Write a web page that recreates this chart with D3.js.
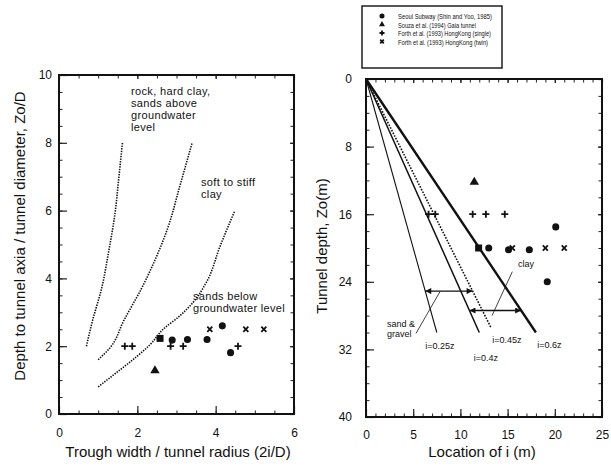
<!DOCTYPE html>
<html>
<head>
<meta charset="utf-8">
<script src="https://cdn.jsdelivr.net/npm/d3@7"></script>
<style>
    body { margin: 0; background: #fff; }
    text { font-family: "Liberation Sans", Arial, sans-serif; fill: #111; }
</style>
</head>
<body>
<svg width="611" height="466"></svg>
<script>
// ---- left panel: trough width ratio vs depth ratio ----
const rockCurve = [[0.7, 2], [0.86, 2.77], [1.09, 3.71], [1.26, 4.74], [1.43, 5.92], [1.53, 7], [1.62, 8]];
const clayCurve = [[1.0, 1.6], [1.3, 1.95], [1.66, 2.77], [2.11, 3.71], [2.45, 4.54], [2.79, 5.53], [3.08, 6.7], [3.4, 8]];
const sandCurve = [[1.0, 0.8], [1.5, 1.25], [1.98, 1.69], [2.32, 2.04], [2.66, 2.5], [3.09, 2.9], [3.43, 3.3], [3.77, 3.9], [4.11, 4.94], [4.49, 6]];

const seoulRatio = [[2.89, 2.18], [3.28, 2.2], [3.78, 2.2], [4.17, 2.6], [4.38, 1.81]];
const gaiaRatio = [[2.45, 1.28]];
const hkSingleRatio = [[1.68, 2.0], [1.87, 2.0], [2.85, 2.0], [3.17, 2.0], [4.57, 2.0]];
const hkTwinRatio = [[3.85, 2.5], [4.77, 2.5], [5.23, 2.5]];
const squareRatio = [[2.58, 2.23]];

// ---- right panel: location of i vs tunnel depth ----
const seoulDepth = [[20.1, 17.5], [13.0, 20], [15.1, 20.2], [17.3, 20.2], [19.2, 24]];
const gaiaDepth = [[11.47, 12.2]];
const hkSingleDepth = [[6.63, 16], [7.34, 16], [11.3, 16], [12.7, 16], [14.7, 16]];
const hkTwinDepth = [[15.5, 20], [19.0, 20], [21.0, 20]];
const squareDepth = [[11.93, 20]];

const iFactors = [0.25, 0.4, 0.45, 0.6];
const iEndDepth = [30, 30, 29.5, 30];
const iLabels = ["i=0.25z", "i=0.4z", "i=0.45z", "i=0.6z"];

const legendLabels = [
    "Seoul Subway (Shin and Yoo, 1985)",
    "Souza et al. (1994)   Gaia tunnel",
    "Forth et al. (1993)   HongKong (single)",
    "Forth et al. (1993)   HongKong (twin)"
];

const leftXTicks = [0, 2, 4, 6];
const leftYTicks = [0, 2, 4, 6, 8, 10];
const rightXTicks = [0, 5, 10, 15, 20, 25];
const rightYTicks = [0, 8, 16, 24, 32, 40];

const svg = d3.select("svg");

const lx = d3.scaleLinear().domain([0, 6]).range([59, 294]);
const ly = d3.scaleLinear().domain([0, 10]).range([414, 75]);
const rx = d3.scaleLinear().domain([0, 25]).range([366, 602]);
const ry = d3.scaleLinear().domain([0, 40]).range([79, 417]);

// markers
function drawMarks(g, pts, x, y, kind, s) {
    const sel = g.append("g").selectAll("path").data(pts).enter().append("path")
        .attr("transform", d => `translate(${x(d[0])},${y(d[1])})`);
    if (kind === "circle") sel.attr("d", d3.symbol(d3.symbolCircle, s * s * 0.8)).attr("fill", "#111");
    if (kind === "square") sel.attr("d", d3.symbol(d3.symbolSquare, s * s)).attr("fill", "#111");
    if (kind === "triangle") sel.attr("d", d3.symbol(d3.symbolTriangle, s * s * 0.6)).attr("fill", "#111");
    if (kind === "plus") {
        const h = s / 2;
        sel.attr("d", `M${-h},0H${h}M0,${-h}V${h}`).attr("stroke", "#111").attr("stroke-width", 1.8).attr("fill", "none");
    }
    if (kind === "x") {
        const h = s * 0.36;
        sel.attr("d", `M${-h},${-h}L${h},${h}M${-h},${h}L${h},${-h}`).attr("stroke", "#111").attr("stroke-width", 1.8).attr("fill", "none");
    }
}

function drawFrame(x, y, xMinor, yMinor, xTicks, yTicks, xPad, yPad) {
    const g = svg.append("g");
    const [x0, x1] = x.range();
    const [y0, y1] = y.range();
    const bottom = Math.max(y0, y1), top = Math.min(y0, y1);

    const axes = [
        { axis: d3.axisBottom, pos: `translate(0,${bottom})`, scale: x, minor: xMinor, major: xTicks, pad: xPad, labels: true },
        { axis: d3.axisTop, pos: `translate(0,${top})`, scale: x, minor: xMinor, major: xTicks, pad: 0, labels: false },
        { axis: d3.axisLeft, pos: `translate(${x0},0)`, scale: y, minor: yMinor, major: yTicks, pad: yPad, labels: true },
        { axis: d3.axisRight, pos: `translate(${x1},0)`, scale: y, minor: yMinor, major: yTicks, pad: 0, labels: false }
    ];
    axes.forEach(a => {
        g.append("g").attr("transform", a.pos)
            .call(a.axis(a.scale).tickValues(a.minor).tickSize(-3.5).tickFormat(""))
            .call(s => s.select(".domain").remove())
            .call(s => s.selectAll("line").attr("stroke", "#222"));
        const maj = g.append("g").attr("transform", a.pos)
            .call(a.axis(a.scale).tickValues(a.major).tickSize(a.labels ? -8 : -4)
                .tickPadding(a.pad).tickFormat(a.labels ? d3.format("d") : ""))
            .call(s => s.select(".domain").remove())
            .call(s => s.selectAll("line").attr("stroke", "#222").attr("stroke-width", 1.2));
        maj.selectAll("text").attr("font-size", 12).style("font-family", "'Liberation Sans', Arial, sans-serif").attr("fill", "#111");
    });

    g.append("rect")
        .attr("x", x0).attr("y", top)
        .attr("width", x1 - x0).attr("height", bottom - top)
        .attr("fill", "none").attr("stroke", "#111").attr("stroke-width", 2);
    return g;
}

// ---------- left panel ----------
drawFrame(lx, ly, d3.range(0, 6.01, 0.5), d3.range(0, 10.01, 0.5), leftXTicks, leftYTicks, 14, 7);

const curveLine = d3.line().x(d => lx(d[0])).y(d => ly(d[1])).curve(d3.curveMonotoneY);
[rockCurve, clayCurve, sandCurve].forEach(c => {
    svg.append("path").attr("d", curveLine(c))
        .attr("fill", "none").attr("stroke", "#111")
        .attr("stroke-width", 1.6).attr("stroke-dasharray", "1.4,1.2");
});

const leftPts = svg.append("g");
drawMarks(leftPts, seoulRatio, lx, ly, "circle", 7);
drawMarks(leftPts, gaiaRatio, lx, ly, "triangle", 8);
drawMarks(leftPts, hkSingleRatio, lx, ly, "plus", 7);
drawMarks(leftPts, hkTwinRatio, lx, ly, "x", 7);
drawMarks(leftPts, squareRatio, lx, ly, "square", 7);

function multiline(lines, x, y, size, lh, ls) {
    const t = svg.append("text").attr("font-size", size).attr("letter-spacing", ls || 0);
    lines.forEach((s, i) => t.append("tspan").attr("x", x).attr("y", y + i * lh).text(s));
}
multiline(["rock, hard clay,", "sands above", "groundwater", "level"], 131, 95, 11, 12, 0.35);
multiline(["soft to stiff", "clay"], 201, 186, 11, 12.3, 0.35);
multiline(["sands below", "groundwater level"], 193, 299.5, 11, 12, 0.3);

svg.append("text").attr("font-size", 15).attr("text-anchor", "middle")
    .attr("transform", "translate(25,236) rotate(-90)")
    .text("Depth to tunnel axia / tunnel diameter, Zo/D");
svg.append("text").attr("font-size", 15).attr("text-anchor", "middle")
    .attr("x", 178).attr("y", 457)
    .text("Trough width / tunnel radius (2i/D)");

// ---------- right panel ----------
drawFrame(rx, ry, d3.range(0, 25.01, 1), d3.range(0, 40.01, 2), rightXTicks, rightYTicks, 13, 14);

const lineStyles = [
    { w: 1.1, dash: null },
    { w: 1.5, dash: null },
    { w: 1.6, dash: "1.6,1.4" },
    { w: 2.4, dash: null }
];
iFactors.forEach((f, i) => {
    const z = iEndDepth[i];
    svg.append("line")
        .attr("x1", rx(0)).attr("y1", ry(0))
        .attr("x2", rx(f * z)).attr("y2", ry(z))
        .attr("stroke", "#111").attr("stroke-width", lineStyles[i].w)
        .attr("stroke-dasharray", lineStyles[i].dash);
});

// range arrows
const defs = svg.append("defs");
defs.append("marker").attr("id", "ah").attr("viewBox", "0 0 10 10")
    .attr("refX", 10).attr("refY", 5).attr("markerWidth", 7).attr("markerHeight", 6)
    .attr("markerUnits", "userSpaceOnUse").attr("orient", "auto-start-reverse")
    .append("path").attr("d", "M0,0L10,5L0,10z").attr("fill", "#111");

function rangeArrow(fa, fb, z) {
    svg.append("line")
        .attr("x1", rx(fa * z)).attr("y1", ry(z))
        .attr("x2", rx(fb * z)).attr("y2", ry(z))
        .attr("stroke", "#111").attr("stroke-width", 1.4)
        .attr("marker-start", "url(#ah)").attr("marker-end", "url(#ah)");
}
rangeArrow(iFactors[0], iFactors[2], 25.1);
rangeArrow(iFactors[1], iFactors[3], 27.4);

// pointer lines for soil labels
function pointer(a, b) {
    svg.append("line")
        .attr("x1", rx(a[0])).attr("y1", ry(a[1]))
        .attr("x2", rx(b[0])).attr("y2", ry(b[1]))
        .attr("stroke", "#111").attr("stroke-width", 0.8);
}
pointer([5.3, 30.1], [7.87, 25.1]);
pointer([13.35, 28.0], [15.5, 22.8]);

multiline(["sand &", "gravel"], 387, 326.5, 9, 10.2);
svg.append("text").attr("font-size", 9).attr("x", 518).attr("y", 267).text("clay");

const labelPos = [[6.28, 31.9], [11.42, 33.4], [13.38, 31.2], [18.15, 31.8]];
iLabels.forEach((s, i) => {
    svg.append("text").attr("font-size", 9)
        .attr("x", rx(labelPos[i][0])).attr("y", ry(labelPos[i][1]))
        .text(s);
});

const rightPts = svg.append("g");
drawMarks(rightPts, seoulDepth, rx, ry, "circle", 7);
drawMarks(rightPts, gaiaDepth, rx, ry, "triangle", 8);
drawMarks(rightPts, hkSingleDepth, rx, ry, "plus", 7);
drawMarks(rightPts, hkTwinDepth, rx, ry, "x", 7);
drawMarks(rightPts, squareDepth, rx, ry, "square", 7);

svg.append("text").attr("font-size", 15).attr("text-anchor", "middle")
    .attr("transform", "translate(327,246) rotate(-90)")
    .text("Tunnel depth, Zo(m)");
svg.append("text").attr("font-size", 15).attr("text-anchor", "middle")
    .attr("x", 482).attr("y", 457)
    .text("Location of i (m)");

// legend
const legend = svg.append("g");
legend.append("rect").attr("x", 362).attr("y", 6).attr("width", 140).attr("height", 62)
    .attr("fill", "#fff").attr("stroke", "#111").attr("stroke-width", 1.4);
const legendKinds = ["circle", "triangle", "plus", "x"];
const legendWidths = [94, 78, 93, 90];
legendLabels.forEach((s, i) => {
    const yy = 16 + i * 8.5;
    const m = legend.append("g");
    drawMarks(m, [[0, 0]], v => 382 + v, v => yy + v, legendKinds[i], 5);
    legend.append("text").attr("font-size", 8)
        .attr("x", 398).attr("y", yy + 3)
        .attr("textLength", legendWidths[i]).attr("lengthAdjust", "spacingAndGlyphs")
        .text(s);
});
</script>
</body>
</html>
